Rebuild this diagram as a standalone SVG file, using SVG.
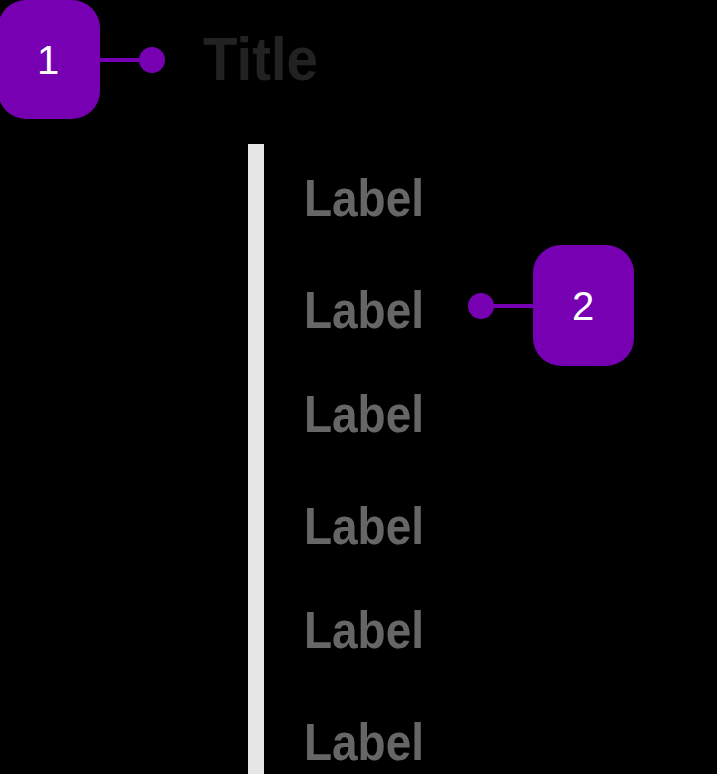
<svg xmlns="http://www.w3.org/2000/svg" width="717" height="774" viewBox="0 0 717 774">
<style>
.badge{fill:#7700b3}
.num{font-family:"Liberation Sans",Arial,sans-serif;font-size:40px;fill:#ffffff;text-anchor:middle}
.lbl{font-family:"Liberation Sans",Arial,sans-serif;font-size:52px;font-weight:bold;fill:#666666}
.title{font-family:"Liberation Sans",Arial,sans-serif;font-size:62px;font-weight:bold;fill:#222222}
.conn{stroke:#7700b3;stroke-width:4;fill:none}
.dot{fill:#7700b3}
</style>
<rect x="0" y="0" width="717" height="774" fill="#000000"/>
<g id="timeline-bar"><rect x="248" y="144" width="16" height="630" fill="#e6e6e6"/></g>
<g id="title"><text class="title" x="203" y="80" textLength="115" lengthAdjust="spacingAndGlyphs">Title</text></g>
<g id="label-1"><text class="lbl" x="304" y="216" textLength="120" lengthAdjust="spacingAndGlyphs">Label</text></g>
<g id="label-2"><text class="lbl" x="304" y="328" textLength="120" lengthAdjust="spacingAndGlyphs">Label</text></g>
<g id="label-3"><text class="lbl" x="304" y="432" textLength="120" lengthAdjust="spacingAndGlyphs">Label</text></g>
<g id="label-4"><text class="lbl" x="304" y="544" textLength="120" lengthAdjust="spacingAndGlyphs">Label</text></g>
<g id="label-5"><text class="lbl" x="304" y="648" textLength="120" lengthAdjust="spacingAndGlyphs">Label</text></g>
<g id="label-6"><text class="lbl" x="304" y="760" textLength="120" lengthAdjust="spacingAndGlyphs">Label</text></g>
<g id="connectors">
<line class="conn" x1="100" y1="60" x2="152" y2="60"/>
<circle class="dot" cx="152" cy="60" r="13"/>
<line class="conn" x1="481" y1="306" x2="534" y2="306"/>
<circle class="dot" cx="481" cy="306" r="13"/>
</g>
<g id="badge-1"><rect class="badge" x="-2" y="0" width="102" height="119" rx="28"/><text class="num" x="48" y="74">1</text></g>
<g id="badge-2"><rect class="badge" x="533" y="245" width="101" height="121" rx="28"/><text class="num" x="583" y="320">2</text></g>
</svg>
